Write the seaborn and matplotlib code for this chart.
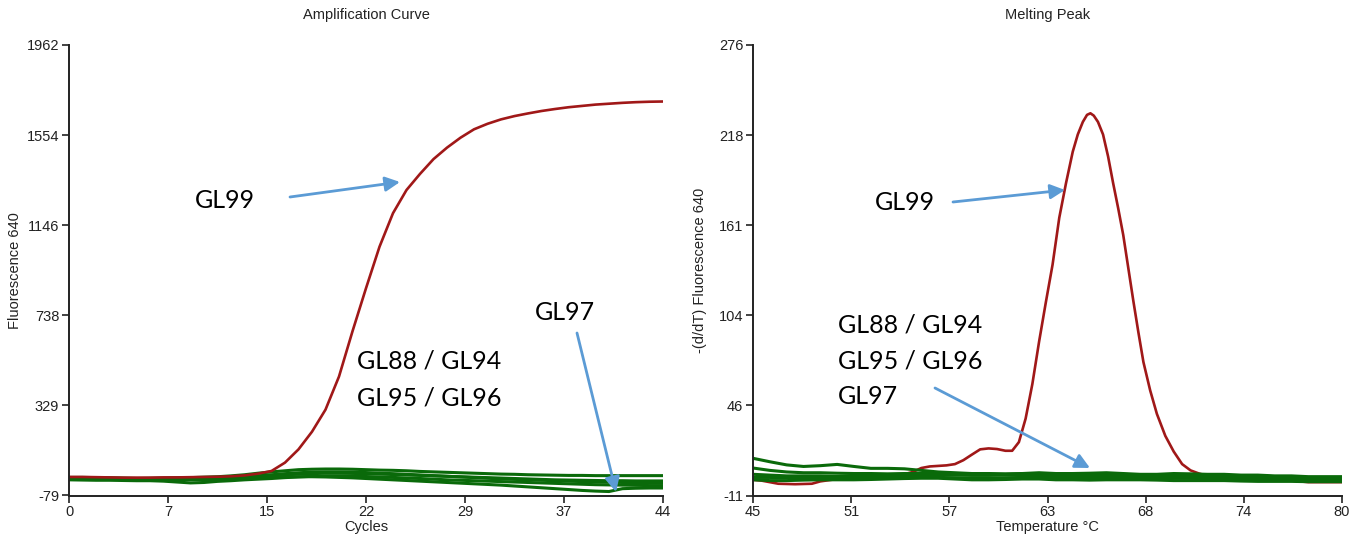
import numpy as np
import pandas as pd
import matplotlib
matplotlib.use("Agg")
import matplotlib.pyplot as plt
import seaborn as sns

# ---------------- data ----------------
cycles = list(range(0, 45))
gl99_amp = [5, 5, 4, 3, 2, 2, 2, 3, 3, 4, 5, 6, 8, 12, 20, 32, 70, 130, 210, 310,
            460, 665, 860, 1048, 1200, 1305, 1378, 1445, 1497, 1542, 1580, 1605, 1625, 1640, 1652,
            1663, 1672, 1680, 1686, 1692, 1696, 1700, 1703, 1705, 1706]
neg_amp_1 = [3, 3, 2, 1, 0, -2, -3, -2, 0, 2, 4, 6, 10, 15, 22, 28, 33, 38, 40, 41,
             41, 40, 38, 36, 35, 33, 30, 28, 26, 24, 22, 20, 18, 17, 15,
             14, 13, 12, 12, 11, 11, 11, 11, 11, 11]
neg_amp_2 = [0, 0, -2, -4, -5, -5, -4, -3, -2, -2, -1, 0, 0, 2, 6, 10, 14, 18, 20, 22,
             22, 21, 20, 18, 16, 14, 12, 10, 8, 6, 4, 2, 0, -2, -4,
             -6, -8, -9, -10, -11, -12, -12, -13, -13, -13]
neg_amp_3 = [-8, -9, -10, -10, -11, -12, -12, -14, -18, -22, -20, -15, -12, -8, -5, -2, 2, 5, 8, 10,
             10, 9, 7, 5, 3, 0, -2, -5, -8, -10, -12, -14, -16, -18, -20,
             -22, -24, -26, -28, -30, -31, -32, -33, -34, -34]
neg_amp_4 = [-4, -4, -5, -6, -6, -5, -5, -6, -7, -8, -7, -6, -5, -3, 0, 3, 5, 6, 6, 5,
             3, 1, -2, -5, -8, -11, -14, -17, -20, -23, -26, -29, -32, -36, -40,
             -44, -48, -52, -56, -59, -61, -48, -46, -45, -45]
neg_amp_5 = [1, 1, 0, -1, -2, -2, -1, 0, 1, 2, 2, 3, 4, 6, 10, 15, 20, 24, 27, 28,
             28, 27, 25, 22, 20, 17, 14, 11, 8, 5, 2, -1, -4, -6, -8,
             -10, -12, -14, -16, -18, -19, -20, -21, -22, -22]

temps_peak = [45.0, 45.5, 46.0, 46.5, 47.5, 48.5, 49.0, 50.0, 51.0, 52.0, 53.0, 54.0, 54.5,
              55.0, 55.5, 56.5, 57.0, 57.5, 58.0, 58.5, 59.0, 59.5, 60.0, 60.4, 60.8, 61.2,
              61.6, 62.0, 62.4, 62.8, 63.2, 63.6, 64.0, 64.3, 64.6, 64.85, 65.05, 65.25, 65.5,
              65.8, 66.1, 66.4, 66.7, 67.0, 67.3, 67.6, 67.9, 68.2, 68.6, 69.0, 69.5, 70.0,
              70.5, 71.0, 71.5, 72.0, 73.0, 74.0, 75.0, 76.0, 77.0, 78.0, 79.0, 80.0]
gl99_peak = [-1, -1.5, -2.5, -3.5, -3.8, -3.5, -2, -0.5, 0.5, 1.8, 2.4, 2.6, 4,
             6.5, 7.5, 8.2, 9, 11.5, 15, 18.4, 19, 18.6, 17.5, 17.5, 23, 38,
             60, 87, 112, 136, 166, 188, 208, 219, 227, 231.5, 232.5, 231, 227,
             219, 205, 188, 172, 155, 134, 113, 93, 74, 56, 41, 27, 17,
             9, 5, 3, 1.5, 0.5, 0, -0.5, -1, -1.5, -2.5, -2.5, -2.5]

temps_neg = list(range(45, 81))
neg_peak_1 = [12.7, 10.5, 8.5, 7.5, 8, 8.8, 7.5, 6.3, 6.3, 6, 5, 4, 3.5, 3, 3, 2.8, 3, 3.5,
              3, 3, 3.2, 3.5, 3, 2.5, 2.5, 3, 2.8, 2.5, 2.5, 2, 2, 1.5, 1.5, 1, 1, 1]
neg_peak_2 = [6.5, 5, 4, 3.5, 3.5, 3.2, 3, 3, 2.8, 3, 3, 3, 2.5, 2.5, 2.5, 2.5, 2.8, 3,
              2.5, 2.5, 2.5, 2.5, 2.5, 2, 2, 2, 2, 2, 1.8, 1.5, 1.5, 1, 1, 0.5, 0.5, 0.5]
neg_peak_3 = [2.5, 2, 1.5, 1.5, 1.5, 1.2, 1.5, 1.5, 1.5, 2, 2, 2, 2, 1.8, 1.8, 2, 2, 2,
              1.5, 1.5, 1.5, 1.5, 1.5, 1.2, 1.2, 1, 1, 1, 0.8, 0.5, 0.5, 0.3, 0, 0, 0, -0.2]
neg_peak_4 = [0.5, 0.5, 0.3, 0, 0, 0, -0.2, 0.3, 0.5, 0.8, 0.8, 0.5, 0.3, 0, 0, 0.3, 0.5, 0.5,
              0.3, 0, 0, 0.5, 0.3, 0, 0, 0, 0, -0.3, -0.5, -0.5, -0.5, -0.8, -1, -1, -1, -1.2]
neg_peak_5 = [-1, -1.5, -1.5, -1.2, -1, -1, -1, -0.8, -0.5, -0.2, 0, 0, -0.5, -1, -1, -0.8, -0.5, -0.5,
              -1, -1, -1.2, -1, -1, -1, -1.2, -1.5, -1.5, -1.5, -1.5, -1.8, -2, -2, -2, -2.2, -2.2, -2.2]

amp_xticks = [0, 7, 15, 22, 29, 37, 44]
amp_yticks = [-79, 329, 738, 1146, 1554, 1962]
peak_xticks = [45, 51, 57, 63, 68, 74, 80]
peak_yticks = [-11, 46, 104, 161, 218, 276]

# ---------------- style ----------------
sns.set_style("white")
plt.rcParams['font.family'] = ['Liberation Sans', 'DejaVu Sans']

W, H = 1366, 538
fig = plt.figure(figsize=(W / 100, H / 100), dpi=100)
ax1 = fig.add_axes([69 / W, (H - 495.5) / H, (663 - 69) / W, 450.5 / H])
ax2 = fig.add_axes([753 / W, (H - 495.5) / H, (1342 - 753) / W, 450.5 / H])

RED = "#A01818"
GREEN = "#0A6A0A"
BLUE = "#5B9BD5"

amp_df = pd.DataFrame({"cycle": cycles, "GL99": gl99_amp, "N1": neg_amp_1, "N2": neg_amp_2,
                       "N3": neg_amp_3, "N4": neg_amp_4, "N5": neg_amp_5})
for col in ["N1", "N2", "N3", "N4", "N5"]:
    sns.lineplot(data=amp_df, x="cycle", y=col, ax=ax1, color=GREEN, lw=2.2)
sns.lineplot(data=amp_df, x="cycle", y="GL99", ax=ax1, color=RED, lw=1.9)

peak_df = pd.DataFrame({"temp": temps_peak, "GL99": gl99_peak})
neg_df = pd.DataFrame({"temp": temps_neg, "N1": neg_peak_1, "N2": neg_peak_2,
                       "N3": neg_peak_3, "N4": neg_peak_4, "N5": neg_peak_5})
sns.lineplot(data=peak_df, x="temp", y="GL99", ax=ax2, color=RED, lw=1.9)
for col in ["N1", "N2", "N3", "N4", "N5"]:
    sns.lineplot(data=neg_df, x="temp", y=col, ax=ax2, color=GREEN, lw=2.2)

def style_axis(ax, xt, yt, xlabel, ylabel, title):
    ax.set_xlim(xt[0], xt[-1])
    ax.set_ylim(yt[0], yt[-1])
    ax.set_xticks(np.linspace(xt[0], xt[-1], len(xt)))
    ax.set_xticklabels([str(v) for v in xt])
    ax.set_yticks(np.linspace(yt[0], yt[-1], len(yt)))
    ax.set_yticklabels([str(v) for v in yt])
    for s in ["top", "right"]:
        ax.spines[s].set_visible(False)
    for s in ["left", "bottom"]:
        ax.spines[s].set_color("#222222")
        ax.spines[s].set_linewidth(1.4)
    ax.tick_params(axis="both", which="both", direction="out", length=5, width=1.2,
                   color="#222222", labelsize=10.5, labelcolor="#222222", pad=2,
                   left=True, bottom=True)
    ax.set_xlabel(xlabel, fontsize=10.5, color="#222222")
    ax.set_ylabel(ylabel, fontsize=10.5, color="#222222")
    ax.xaxis.set_label_coords(0.5, -0.07)
    ax.xaxis.label.set_va("center")
    ax.yaxis.label.set_va("center")
    ax.set_facecolor("white")
    pos = ax.get_position()
    fig.text(pos.x0 + pos.width / 2, 1 - 15 / H, title, ha="center", va="center",
             fontsize=10.5, color="#222222")

style_axis(ax1, amp_xticks, amp_yticks, "Cycles", "Fluorescence 640", "Amplification Curve")
style_axis(ax2, peak_xticks, peak_yticks, "Temperature °C", "-(d/dT) Fluorescence 640", "Melting Peak")
ax1.yaxis.set_label_coords((15 - 69) / 594, 0.5)
ax2.yaxis.set_label_coords((700 - 753) / 589, 0.5)

def fp(x, y):
    return (x / W, 1 - y / H)

ANN = dict(fontsize=18, family=["Lato", "DejaVu Sans"], color="black", va="center", ha="left")
ARW = dict(arrowstyle="-|>", color=BLUE, lw=2.0, mutation_scale=22, shrinkA=0, shrinkB=0)

# left annotations
fig.text(*fp(195, 200), "GL99", **ANN)
ax1.annotate("", xy=fp(400, 182), xytext=fp(290, 197), xycoords="figure fraction",
             textcoords="figure fraction", arrowprops=ARW)
fig.text(*fp(535, 312), "GL97", **ANN)
ax1.annotate("", xy=fp(616, 492), xytext=fp(577, 333), xycoords="figure fraction",
             textcoords="figure fraction", arrowprops=ARW)
fig.text(*fp(357, 361), "GL88 / GL94", **ANN)
fig.text(*fp(357, 398), "GL95 / GL96", **ANN)

# right annotations
fig.text(*fp(875, 203), "GL99", **ANN)
ax2.annotate("", xy=fp(1065, 190), xytext=fp(953, 202), xycoords="figure fraction",
             textcoords="figure fraction", arrowprops=ARW)
fig.text(*fp(838, 325), "GL88 / GL94", **ANN)
fig.text(*fp(838, 361), "GL95 / GL96", **ANN)
fig.text(*fp(838, 397), "GL97", **ANN)
ax2.annotate("", xy=fp(1090, 468), xytext=fp(935, 388), xycoords="figure fraction",
             textcoords="figure fraction", arrowprops=ARW)

fig.savefig("out.png", dpi=100, facecolor="white")
